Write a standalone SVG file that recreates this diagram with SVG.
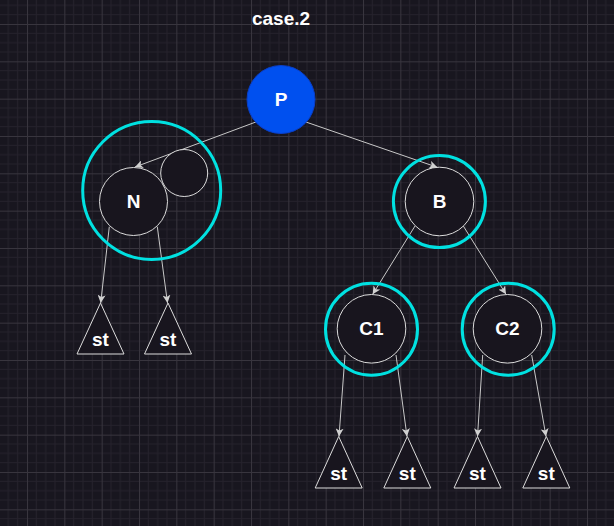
<svg xmlns="http://www.w3.org/2000/svg" width="614" height="526" viewBox="0 0 614 526">
<defs>
<pattern id="grid" patternUnits="userSpaceOnUse" x="-10.333" y="-13.333" width="37.333" height="37.333">
<rect width="37.333" height="37.333" fill="#18161f"/>
<path d="M9.333,0V37.333M18.667,0V37.333M28,0V37.333M0,9.333H37.333M0,18.667H37.333M0,28H37.333" stroke="#25222c" stroke-width="1" fill="none"/>
<path d="M0.5,0V37.333M0,0.5H37.333" stroke="#38353e" stroke-width="1" fill="none"/>
</pattern>
<marker id="arr" viewBox="0 0 8 8" refX="8" refY="4" markerWidth="8" markerHeight="8" markerUnits="userSpaceOnUse" orient="auto">
<path d="M0,0L8,4L0,8L2,4z" fill="#d0d0d0"/>
</marker>
<style>
.edge{stroke:#c8c8c8;stroke-width:1;fill:none;marker-end:url(#arr)}
.node{fill:#18151e;stroke:#dcdcdc;stroke-width:1}
.ring{fill:none;stroke:#00e1e1;stroke-width:3}
.lbl{font-family:"Liberation Sans",Arial,sans-serif;font-weight:bold;font-size:19px;fill:#ffffff;text-anchor:middle}
.tri{fill:#18151e;stroke:#dcdcdc;stroke-width:1}
</style>
</defs>
<rect width="614" height="526" fill="url(#grid)"/>
<text class="lbl" x="281" y="25">case.2</text>
<g id="connectors">
<line class="edge" x1="256.7" y1="121.7" x2="135" y2="167"/>
<line class="edge" x1="305" y1="121.7" x2="437.3" y2="167.3"/>
<line class="edge" x1="109.3" y1="226.7" x2="100.7" y2="303"/>
<line class="edge" x1="157.3" y1="226.7" x2="167.5" y2="303"/>
<line class="edge" x1="415" y1="226" x2="372.7" y2="294.3"/>
<line class="edge" x1="463.3" y1="226" x2="506" y2="294.3"/>
<line class="edge" x1="345" y1="355" x2="339" y2="436.5"/>
<line class="edge" x1="396" y1="355" x2="407" y2="436.5"/>
<line class="edge" x1="482.7" y1="355" x2="477.5" y2="436.5"/>
<line class="edge" x1="531.7" y1="355" x2="546" y2="436.5"/>
</g>
<g id="P">
<circle cx="281" cy="99.5" r="34" fill="#0050ef" stroke="#0a3fc8" stroke-width="1"/>
<text class="lbl" x="281" y="106">P</text>
</g>
<g id="N">
<circle class="ring" cx="151.7" cy="190.5" r="69"/>
<circle class="node" cx="184.2" cy="173" r="23.5"/>
<circle class="node" cx="133.5" cy="201.5" r="34"/>
<text class="lbl" x="133.5" y="208">N</text>
</g>
<g id="B">
<circle class="ring" cx="439.4" cy="201.6" r="46"/>
<circle class="node" cx="439.5" cy="201.5" r="34.3"/>
<text class="lbl" x="439.5" y="208">B</text>
</g>
<g id="C1">
<circle class="ring" cx="371.5" cy="329.2" r="46"/>
<circle class="node" cx="371.5" cy="328.8" r="34.3"/>
<text class="lbl" x="371.5" y="335">C1</text>
</g>
<g id="C2">
<circle class="ring" cx="508.2" cy="329.2" r="46"/>
<circle class="node" cx="507.5" cy="328.8" r="34.3"/>
<text class="lbl" x="507.5" y="335">C2</text>
</g>
<g id="st1">
<polygon class="tri" points="100.5,303 124,354 77,354"/>
<text class="lbl" x="100.5" y="345.5">st</text>
</g>
<g id="st2">
<polygon class="tri" points="168,303 191.5,354 144.5,354"/>
<text class="lbl" x="168" y="345.5">st</text>
</g>
<g id="st3">
<polygon class="tri" points="338.7,436.5 362.2,488 315.2,488"/>
<text class="lbl" x="338.7" y="480">st</text>
</g>
<g id="st4">
<polygon class="tri" points="407.3,436.5 430.8,488 383.8,488"/>
<text class="lbl" x="407.3" y="480">st</text>
</g>
<g id="st5">
<polygon class="tri" points="477.5,436.5 501,488 454,488"/>
<text class="lbl" x="477.5" y="480">st</text>
</g>
<g id="st6">
<polygon class="tri" points="546.3,436.5 569.8,488 522.8,488"/>
<text class="lbl" x="546.3" y="480">st</text>
</g>
</svg>
